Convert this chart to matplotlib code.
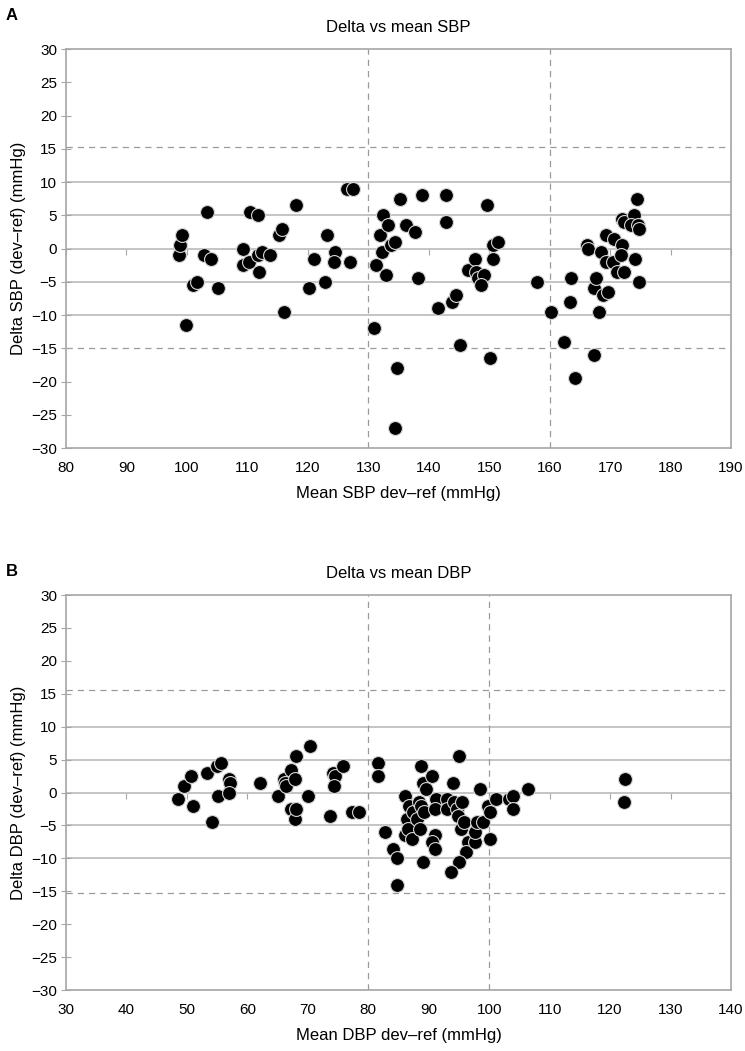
import numpy as np
import matplotlib
matplotlib.use("Agg")
import matplotlib.pyplot as plt

plt.rcParams['font.family'] = ['Liberation Sans', 'DejaVu Sans']

# panel A: systolic, mean vs delta (mmHg)
sbp_mean = [98.7, 98.9, 99.2, 99.9, 101.0, 101.7, 102.8, 103.4, 104.0, 105.2,
            109.2, 109.3, 110.2, 110.5, 111.8, 111.8, 112.0, 112.5, 113.7, 115.2,
            115.7, 116.0, 118.0, 120.2, 121.0, 122.8, 123.2, 124.5, 124.3,
            126.4, 127.4, 126.9, 131.0, 131.2, 131.9, 132.3, 132.5, 132.9, 133.2,
            133.7, 134.5, 134.5, 134.8, 135.2, 136.2, 137.7, 138.2, 138.9, 141.5,
            142.9, 142.9, 143.9, 144.5, 145.1, 146.5, 147.7, 147.8, 148.2, 149.2,
            148.7, 149.6, 150.1, 150.6, 150.6, 151.5,
            157.9, 160.2, 162.4, 163.4, 163.6, 164.2, 166.2, 166.4, 167.3, 167.3,
            167.7, 168.1, 168.5, 168.9, 169.6, 169.4, 169.4, 170.4, 170.7, 171.1,
            172.0, 171.8, 172.3, 172.0, 172.3, 173.9, 173.4, 174.1, 174.5, 174.6,
            174.8, 174.8]
sbp_delta = [-1.0, 0.5, 2.0, -11.5, -5.5, -5.0, -1.0, 5.5, -1.5, -6.0,
             0.0, -2.5, -2.0, 5.5, 5.0, -1.0, -3.5, -0.5, -1.0, 2.0,
             3.0, -9.5, 6.5, -6.0, -1.5, -5.0, 2.0, -0.5, -2.0,
             9.0, 9.0, -2.0, -12.0, -2.5, 2.0, -0.5, 5.0, -4.0, 3.5,
             0.5, 1.0, -27.0, -18.0, 7.5, 3.5, 2.5, -4.5, 8.0, -9.0,
             8.0, 4.0, -8.0, -7.0, -14.5, -3.25, -1.5, -3.5, -4.5, -4.0,
             -5.5, 6.5, -16.5, 0.5, -1.5, 1.0,
             -5.0, -9.5, -14.0, -8.0, -4.5, -19.5, 0.5, 0.0, -16.0, -6.0,
             -4.5, -9.5, -0.5, -7.0, -6.5, 2.0, -2.0, -2.0, 1.5, -3.5,
             0.5, -1.0, -3.5, 4.5, 4.0, 5.0, 3.5, -1.5, 7.5, 3.5,
             3.0, -5.0]

# panel B: diastolic
dbp_mean = [48.5, 49.5, 50.7, 51.0, 53.4, 54.2, 54.9, 55.7, 55.2, 56.9,
            57.1, 56.9, 62.1, 65.1, 66.0, 66.2, 66.4, 67.2, 67.9, 68.0,
            67.2, 67.9, 68.0, 70.4, 70.1, 74.2, 74.5, 75.8, 74.3, 73.6,
            77.3, 78.4, 81.6, 81.6, 82.8, 84.1, 84.8, 84.8, 86.0, 86.8,
            86.4, 86.0, 86.5, 87.3, 87.4, 88.0, 88.4, 88.8, 89.0, 89.5,
            90.5, 88.7, 89.2, 88.6, 89.0, 91.0, 90.5, 91.0, 91.2, 91.0,
            93.1, 93.0, 94.0, 95.0, 94.2, 94.6, 94.9, 95.5, 95.4, 95.9,
            96.5, 96.2, 95.0, 93.7, 97.6, 97.7, 98.0, 99.0, 98.4, 99.8,
            100.1, 100.2, 101.2, 103.2, 104.0, 104.0, 106.4, 122.5, 122.3]
dbp_delta = [-1.0, 1.0, 2.5, -2.0, 3.0, -4.5, 4.0, 4.5, -0.5, 2.0,
             1.5, 0.0, 1.5, -0.5, 2.0, 1.5, 1.0, 3.5, 2.0, 5.5,
             -2.5, -4.0, -2.5, 7.0, -0.5, 3.0, 2.5, 4.0, 1.0, -3.5,
             -3.0, -3.0, 4.5, 2.5, -6.0, -8.5, -10.0, -14.0, -0.5, -2.0,
             -4.0, -6.5, -5.5, -7.0, -3.0, -4.0, -1.5, 4.0, 1.5, 0.5,
             2.5, -2.0, -3.0, -5.5, -10.5, -6.5, -7.5, -8.5, -1.0, -2.5,
             -1.0, -2.5, 1.5, 5.5, -1.5, -2.5, -3.5, -1.5, -5.5, -4.5,
             -7.5, -9.0, -10.5, -12.0, -7.5, -6.0, -4.5, -4.5, 0.5, -2.0,
             -3.0, -7.0, -1.0, -1.0, -0.5, -2.5, 0.5, 2.0, -1.5]

sbp_xticks = list(range(80, 191, 10))
dbp_xticks = list(range(30, 141, 10))
yticks = list(range(-30, 31, 5))
grid_y = [10, 5, -5, -10]
sbp_limits = [15.2, -15.0]
dbp_limits = [15.6, -15.3]
sbp_vlines = [130, 160]
dbp_vlines = [80, 100]

GRAY = '#a6a6a6'
GRID = '#bfbfbf'
DASH = '#9a9a9a'


def panel(ax, x, y, xticks, vlines, limits, title, xlabel, ylabel):
    ax.set_xlim(xticks[0], xticks[-1])
    ax.set_ylim(yticks[0], yticks[-1])
    for g in grid_y:
        ax.axhline(g, color=GRID, lw=1.3, zorder=1)
    for v in vlines:
        ax.axvline(v, color=DASH, lw=0.9, ls=(0, (5, 4)), zorder=1)
    for l in limits:
        ax.axhline(l, color=DASH, lw=0.9, ls=(0, (5, 4)), zorder=1)
    ax.scatter(x, y, s=100, c='black', edgecolors='#d5d5d5', linewidths=0.8, zorder=3)

    for sp in ax.spines.values():
        sp.set_color(GRAY)
        sp.set_linewidth(1.2)
    ax.set_yticks(yticks)
    ax.set_xticks(xticks)
    ax.tick_params(axis='y', direction='inout', length=7, color=GRAY, labelsize=11, pad=3)
    ax.tick_params(axis='x', length=0, labelsize=11, pad=9)

    # zero line carrying the x tick marks (Excel style)
    sec = ax.secondary_xaxis(0.5)
    sec.set_alignment('bottom')
    sec.set_xticks(xticks)
    sec.tick_params(axis='x', direction='out', length=4, color=GRAY, labelbottom=False, labeltop=False)
    sec.spines['bottom'].set_color(GRID)
    sec.spines['bottom'].set_linewidth(1.3)

    ax.set_title(title, fontsize=12, pad=12)
    ax.set_xlabel(xlabel, fontsize=12, labelpad=8)
    ax.set_ylabel(ylabel, fontsize=12, labelpad=4)


fig = plt.figure(figsize=(7.45, 10.51), dpi=100)
ax1 = fig.add_axes([0.0886, 0.5737, 0.8926, 0.3796])
ax2 = fig.add_axes([0.0886, 0.0580, 0.8926, 0.3758])

panel(ax1, sbp_mean, sbp_delta, sbp_xticks, sbp_vlines, sbp_limits,
      'Delta vs mean SBP', 'Mean SBP dev\u2013ref (mmHg)', 'Delta SBP (dev\u2013ref) (mmHg)')
panel(ax2, dbp_mean, dbp_delta, dbp_xticks, dbp_vlines, dbp_limits,
      'Delta vs mean DBP', 'Mean DBP dev\u2013ref (mmHg)', 'Delta DBP (dev\u2013ref) (mmHg)')

fig.text(0.008, 0.992, 'A', fontsize=12, fontweight='bold', va='top')
fig.text(0.008, 0.463, 'B', fontsize=12, fontweight='bold', va='top')

fig.savefig('out.png', dpi=100)
